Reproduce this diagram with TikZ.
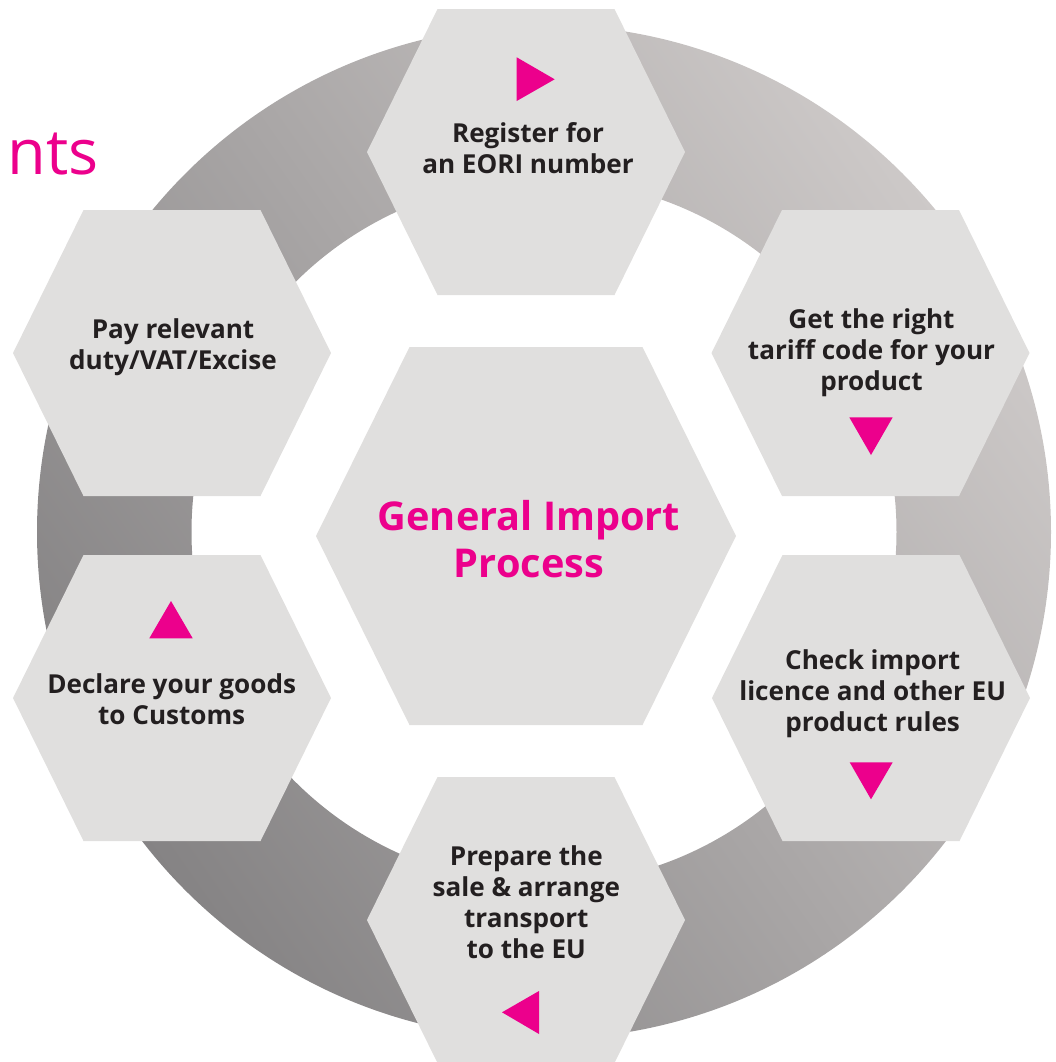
\documentclass[tikz,border=0pt]{standalone}
\usepackage{fontspec}
\setmainfont{Open Sans}
\definecolor{pinkc}{HTML}{EC008C}
\definecolor{hexfill}{HTML}{E0DFDE}
\definecolor{textdark}{HTML}{231F20}
\definecolor{ringdark}{HTML}{858384}
\definecolor{ringlight}{HTML}{CDC9C8}
\newcommand{\hexsmall}[2]{\fill[hexfill,shift={(#1,#2)}] (-159,0) -- (-88.5,-143) -- (88.5,-143) -- (159,0) -- (88.5,143) -- (-88.5,143) -- cycle;}
\begin{document}
\begin{tikzpicture}[x=0.5pt,y=-0.5pt,
  steptext/.style={font=\bfseries\fontsize{13.05}{15.5}\selectfont, text=textdark, align=center, inner sep=0pt, execute at begin node=\strut, execute at end node=\strut},
  maintext/.style={font=\bfseries\fontsize{19.85}{23.65}\selectfont, text=pinkc, align=center, inner sep=0pt, execute at begin node=\strut, execute at end node=\strut},
  marker/.style={fill=pinkc}]
\useasboundingbox (0,0) rectangle (1056,1062);
% title fragment
\node[font=\fontsize{31.5}{36}\selectfont, text=pinkc, anchor=base west, inner sep=0pt] (title) at (7,174) {nts};
% ring
\shade[even odd rule, bottom color=ringdark, top color=ringlight, shading angle=-55]
  (544,532) circle (507) (544,532) circle (352.5);
% hexagons
\hexsmall{526}{152}
\hexsmall{870.5}{353}
\hexsmall{871}{698}
\hexsmall{526}{920}
\hexsmall{172}{698}
\hexsmall{172}{353}
\fill[hexfill,shift={(526,536)}] (-210,0) -- (-116.5,-189) -- (116.5,-189) -- (210,0) -- (116.5,189) -- (-116.5,189) -- cycle;
% markers
\fill[marker] (516.7,57.3) -- (516.7,101) -- (554.7,79.3) -- cycle;
\fill[marker] (849.3,417.3) -- (892.7,417.3) -- (871,455) -- cycle;
\fill[marker] (849.7,762.3) -- (892.7,762.3) -- (871,799.3) -- cycle;
\fill[marker] (539,991) -- (539,1034) -- (502,1012.3) -- cycle;
\fill[marker] (149.3,638.3) -- (192.7,638.3) -- (171,601) -- cycle;
% texts
\node[maintext] (center) at (529,545.9) {General Import\\Process};
\node[steptext] (eori) at (528,152.6) {Register for\\an EORI number};
\node[steptext] (tariff) at (871.5,354) {Get the right\\tariff code for your\\product};
\node[steptext] (licence) at (872.7,695.5) {Check import\\licence and other EU\\product rules};
\node[steptext] (transport) at (526.3,906.3) {Prepare the\\sale \& arrange\\transport\\to the EU};
\node[steptext] (declare) at (171.7,703.8) {Declare your goods\\to Customs};
\node[steptext] (pay) at (173,348.3) {Pay relevant\\duty/VAT/Excise};
\end{tikzpicture}
\end{document}
